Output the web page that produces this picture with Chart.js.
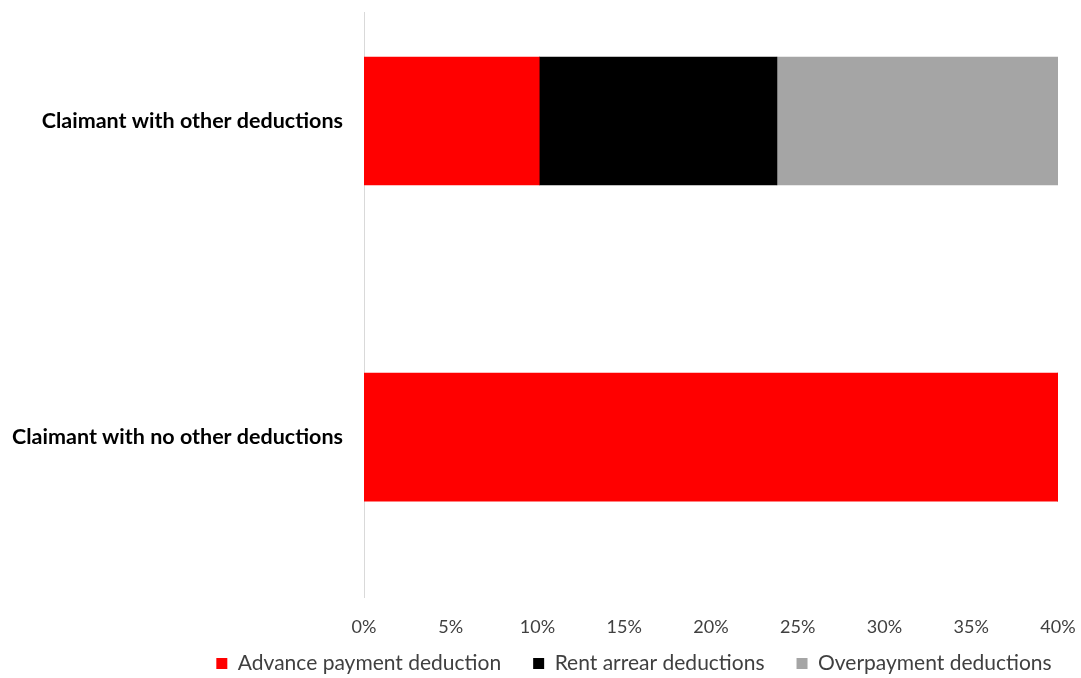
<!DOCTYPE html>
<html>
<head>
<meta charset="utf-8">
<script src="https://cdn.jsdelivr.net/npm/chart.js@4/dist/chart.umd.min.js"></script>
<style>
  html, body { margin: 0; padding: 0; background: #fff; }
  #wrap { width: 1081px; height: 678px; }
</style>
</head>
<body>
<div id="wrap"><canvas id="deductionsChart" width="1081" height="678"></canvas></div>
<script>
// Share of claimants with each deduction type, in percent
const categories = ['Claimant with other deductions', 'Claimant with no other deductions'];
const advancePayment = [10.1, 40.0];
const rentArrear = [13.7, 0];
const overpayment = [16.2, 0];

const seriesNames = ['Advance payment deduction', 'Rent arrear deductions', 'Overpayment deductions'];
const seriesColors = ['#ff0000', '#000000', '#a5a5a5'];

const xMax = 40;
const xStep = 5;

// categories sit at y = 0, 1 on a linear axis so the band can be placed freely
function toPoints(values) {
    return values.map((v, i) => ({ x: v, y: i }));
}

// move the legend row: centred at x = 634, a bit closer to the axis labels
const legendPlacement = {
    id: 'legendPlacement',
    afterLayout(chart) {
        const lg = chart.legend;
        if (!lg) return;
        lg.left = 634 - 500;
        lg.right = 634 + 500;
        lg.width = lg.right - lg.left;
        lg.top -= 17;
        lg.height = lg.bottom - lg.top;
    }
};

const ctx = document.getElementById('deductionsChart').getContext('2d');

new Chart(ctx, {
    type: 'bar',
    data: {
        datasets: [advancePayment, rentArrear, overpayment].map((vals, k) => ({
            label: seriesNames[k],
            data: toPoints(vals),
            backgroundColor: seriesColors[k],
            borderWidth: 0,
            barThickness: 128,
            stack: 'all'
        }))
    },
    plugins: [legendPlacement],
    options: {
        indexAxis: 'y',
        responsive: false,
        animation: false,
        layout: { padding: { left: 0, right: 23, top: 12, bottom: 0 } },
        plugins: {
            tooltip: { enabled: false },
            legend: {
                position: 'bottom',
                maxHeight: 40,
                labels: {
                    boxWidth: 11,
                    boxHeight: 11,
                    padding: 32,
                    color: '#404040',
                    font: { family: 'Lato', size: 21 }
                }
            }
        },
        scales: {
            x: {
                type: 'linear',
                stacked: true,
                min: 0,
                max: xMax,
                grid: { display: false, drawTicks: false },
                border: { display: false },
                ticks: {
                    stepSize: xStep,
                    padding: 19,
                    color: '#404040',
                    font: { family: 'Lato', size: 18 },
                    callback: (v) => v + '%'
                },
                afterFit: (scale) => {
                    scale.height = 41;
                    scale.paddingLeft = 0;
                    scale.paddingRight = 0;
                }
            },
            y: {
                type: 'linear',
                reverse: true,
                offset: false,
                min: -0.345,
                max: 1.506,
                grid: { display: false, drawTicks: false },
                border: { display: true, color: '#d9d9d9', width: 1 },
                afterBuildTicks: (scale) => {
                    scale.ticks = categories.map((c, i) => ({ value: i }));
                },
                ticks: {
                    padding: 21,
                    color: '#000000',
                    font: { family: 'Lato', size: 21.5, weight: 'bold' },
                    callback: (v) => categories[v]
                },
                afterFit: (scale) => {
                    scale.width = 364;
                    scale.paddingTop = 0;
                    scale.paddingBottom = 0;
                }
            }
        }
    }
});
</script>
</body>
</html>
